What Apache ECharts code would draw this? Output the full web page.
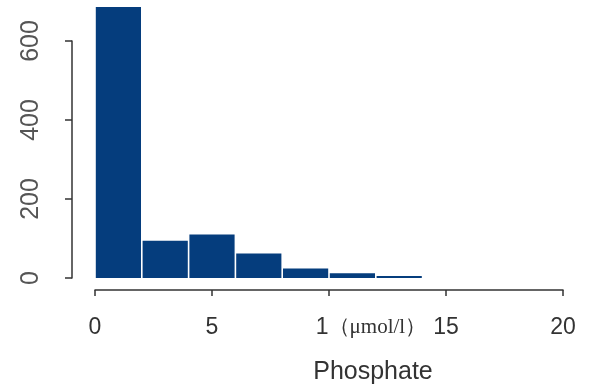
<!DOCTYPE html>
<html>
<head>
<meta charset="utf-8">
<script src="https://cdn.jsdelivr.net/npm/echarts@6/dist/echarts.min.js"></script>
<style>
  html, body { margin: 0; padding: 0; background: #fff; }
  #chart { width: 596px; height: 390px; }
</style>
</head>
<body>
<div id="chart"></div>
<script>
// histogram bins (Phosphate, µmol/l) and counts
const binStart = [0, 2, 4, 6, 8, 10, 12];
const binEnd = [2, 4, 6, 8, 10, 12, 14];
const counts = [686, 94, 110, 62, 24, 12, 5];
const xTicks = [0, 5, 10, 15, 20];
const yTicks = [0, 200, 400, 600];

const chart = echarts.init(document.getElementById('chart'));

const barData = counts.map((c, i) => [binStart[i], binEnd[i], c]);

const option = {
    animation: false,
    grid: [
        { left: 95, right: 33, top: 1.5, height: 276.5 },
        { left: 95, right: 33, top: 41, height: 237 }
    ],
    xAxis: [{
        gridIndex: 0,
        type: 'value',
        min: xTicks[0],
        max: xTicks[xTicks.length - 1],
        interval: 5,
        offset: 12,
        splitLine: { show: false },
        axisLine: { show: true, onZero: false, lineStyle: { color: '#333', width: 1.5 } },
        axisTick: { show: true, length: 6, lineStyle: { color: '#333', width: 1.5 } },
        axisLabel: {
            margin: 26,
            color: '#333',
            fontFamily: 'Liberation Sans',
            fontSize: 23,
            formatter: (v) => v === 10 ? '{p|}{a|1}{b|（μmol/l）}' : String(v),
            rich: {
                p: { width: 84 },
                a: { fontFamily: 'Liberation Sans', fontSize: 23, color: '#333' },
                b: { fontFamily: 'Liberation Serif', fontSize: 21, color: '#333' }
            }
        },
        name: 'Phosphate',
        nameLocation: 'middle',
        nameGap: 70,
        nameTextStyle: {
            fontFamily: 'Liberation Sans',
            fontSize: 25,
            color: '#333',
            padding: [0, 0, 0, 88]
        }
    }, {
        gridIndex: 1,
        type: 'value',
        show: false
    }],
    yAxis: [{
        gridIndex: 0,
        type: 'value',
        min: 0,
        max: 700,
        show: false
    }, {
        gridIndex: 1,
        type: 'value',
        min: yTicks[0],
        max: yTicks[yTicks.length - 1],
        interval: 200,
        offset: 23,
        splitLine: { show: false },
        axisLine: { show: true, onZero: false, lineStyle: { color: '#333', width: 1.5 } },
        axisTick: { show: true, length: 7, lineStyle: { color: '#333', width: 1.5 } },
        axisLabel: {
            rotate: 90,
            margin: 28,
            color: '#555',
            fontFamily: 'Liberation Sans',
            fontSize: 25
        }
    }],
    series: [{
        type: 'custom',
        xAxisIndex: 0,
        yAxisIndex: 0,
        data: barData,
        renderItem: (params, api) => {
            const p0 = api.coord([api.value(0), 0]);
            const p1 = api.coord([api.value(1), api.value(2)]);
            const gap = 0.8; // thin white gap between adjacent bins
            return {
                type: 'rect',
                shape: {
                    x: p0[0] + gap,
                    y: p1[1],
                    width: p1[0] - p0[0] - 2 * gap,
                    height: p0[1] - p1[1]
                },
                style: { fill: '#053d7d' }
            };
        }
    }]
};

chart.setOption(option);
</script>
</body>
</html>
